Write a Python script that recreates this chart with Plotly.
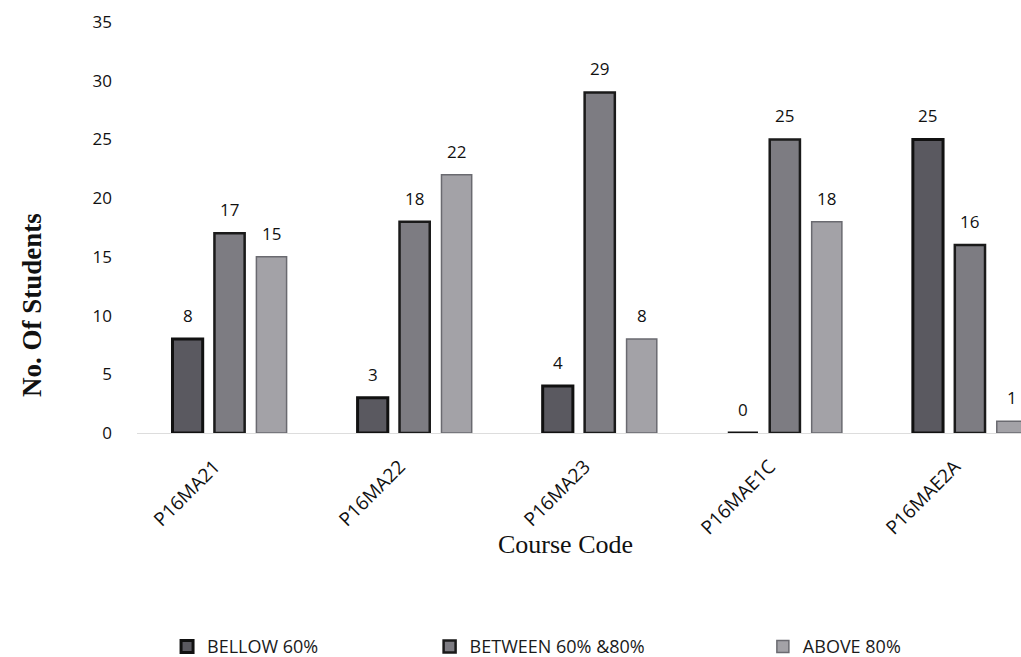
import plotly.graph_objects as go

courses = ["P16MA21", "P16MA22", "P16MA23", "P16MAE1C", "P16MAE2A"]
below_60 = [8, 3, 4, 0, 25]
between_60_80 = [17, 18, 29, 25, 16]
above_80 = [15, 22, 8, 18, 1]
series_names = ["BELLOW 60%", "BETWEEN 60% &80%", "ABOVE 80%"]
y_ticks = [0, 5, 10, 15, 20, 25, 30, 35]

fills = ["#5a5960", "#7d7c82", "#a3a2a7"]
outlines = ["#111111", "#1a1a1a", "#6a6a70"]
widths = [3, 2.5, 1.5]
label_shift = [-42, 0, 42]
legend_ids = ["legend", "legend2", "legend3"]
legend_x = [0.034, 0.331, 0.708]

FONT = "Open Sans, Liberation Sans, sans-serif"

fig = go.Figure()
annotations = []
for name, vals, fc, lc, w, dx, lg in zip(series_names, [below_60, between_60_80, above_80],
                                         fills, outlines, widths, label_shift, legend_ids):
    fig.add_trace(go.Bar(
        x=courses, y=vals, name=name, legend=lg,
        marker=dict(color=fc, line=dict(color=lc, width=w)),
    ))
    for c, v in zip(courses, vals):
        annotations.append(dict(
            x=c, y=v, xref="x", yref="y", text=str(v), showarrow=False,
            xshift=dx, yshift=10, yanchor="bottom", xanchor="center",
            font=dict(family=FONT, size=17, color="#111111"),
        ))

annotations += [
    dict(text="<b>No. Of Students</b>", x=-0.119, y=0.311, xref="paper", yref="paper",
         xanchor="center", yanchor="middle", textangle=-90, showarrow=False,
         font=dict(family="Liberation Serif, Times New Roman, serif", size=27, color="#111111")),
    dict(text="Course Code", x=0.485, y=-0.272, xref="paper", yref="paper",
         xanchor="center", yanchor="middle", showarrow=False,
         font=dict(family="Liberation Serif, Times New Roman, serif", size=26, color="#111111")),
]

legend_style = dict(orientation="h", xanchor="left", y=-0.52, yanchor="middle",
                    font=dict(family=FONT, size=18, color="#1a1a1a"),
                    itemwidth=30, bgcolor="rgba(0,0,0,0)")

fig.update_layout(
    width=1021, height=657,
    paper_bgcolor="white", plot_bgcolor="white",
    margin=dict(l=137, r=0, t=22, b=224, autoexpand=False),
    barmode="group", bargap=0.32, bargroupgap=0.28,
    showlegend=True,
    legend=dict(x=legend_x[0], **legend_style),
    legend2=dict(x=legend_x[1], **legend_style),
    legend3=dict(x=legend_x[2], **legend_style),
    xaxis=dict(range=[-0.5, 4.276], tickangle=-45, showgrid=False, showline=True,
               linecolor="#dddddd", linewidth=1, ticks="", ticklabelstandoff=14,
               ticklabelshift=-15,
               tickfont=dict(family=FONT, size=19, color="#111111")),
    yaxis=dict(range=[0, 35], tickvals=y_ticks, showgrid=False, zeroline=False, showline=False,
               ticks="", ticklabelstandoff=24,
               tickfont=dict(family=FONT, size=17, color="#111111")),
    annotations=annotations,
)

fig.write_html("out.html", config={"displayModeBar": False},
               post_script="document.body.style.margin='0';document.body.style.overflow='hidden';")
